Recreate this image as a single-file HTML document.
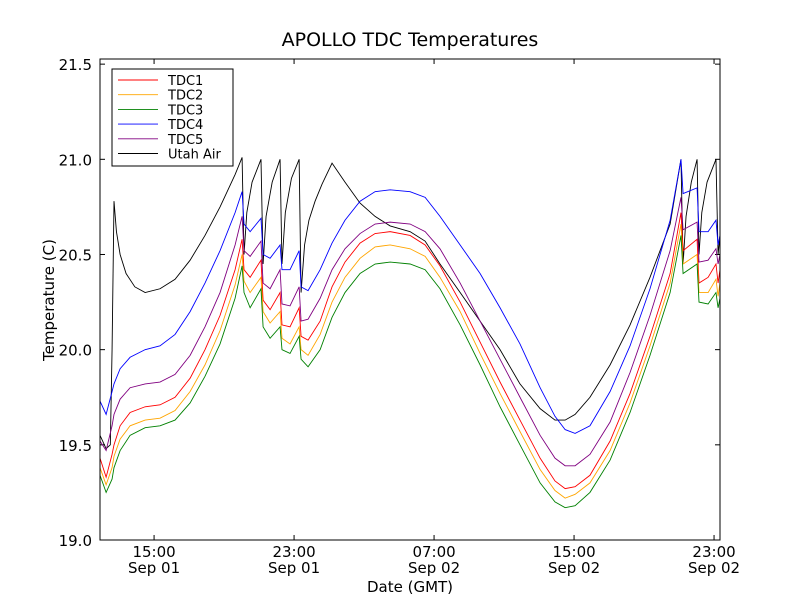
<!DOCTYPE html>
<html><head><meta charset="utf-8"><style>
body{margin:0;background:#fff}
svg text{font-family:"DejaVu Sans","Liberation Sans",sans-serif;fill:#000}
</style></head><body>
<svg id="chart" width="800" height="600" xmlns="http://www.w3.org/2000/svg">
<rect width="800" height="600" fill="#fff"/>
<text x="410" y="46" font-size="19" text-anchor="middle">APOLLO TDC Temperatures</text>
<text transform="translate(54,300) rotate(-90)" font-size="15" text-anchor="middle">Temperature (C)</text>
<text x="410" y="592" font-size="15" text-anchor="middle">Date (GMT)</text>
<g id="ticks"></g>
<g id="series"></g>
<rect x="100" y="59" width="620" height="481" fill="none" stroke="#000" stroke-width="1"/>
<g id="legend"></g>
</svg>
<script>
const times=[-3.09,-2.74,-2.4,-2.29,-1.94,-1.37,-0.51,0.34,1.2,2.06,2.91,3.77,4.63,5.03,5.14,5.49,6.11,6.23,6.63,7.2,7.31,7.77,8.29,8.4,8.8,9.49,10.17,10.91,11.77,12.63,13.49,14.63,15.49,16.34,17.49,18.63,19.77,20.91,22.06,22.91,23.49,24.06,24.91,26.06,27.2,28.34,29.49,30.11,30.23,31.03,31.14,31.66,32.11,32.23,32.34];
const tdc1=[19.43,19.33,19.45,19.5,19.6,19.67,19.7,19.71,19.75,19.85,20.0,20.18,20.42,20.58,20.42,20.38,20.47,20.26,20.21,20.3,20.13,20.12,20.22,20.07,20.05,20.15,20.33,20.46,20.56,20.61,20.62,20.6,20.55,20.44,20.25,20.04,19.83,19.63,19.43,19.31,19.27,19.28,19.34,19.52,19.77,20.07,20.4,20.72,20.52,20.58,20.35,20.38,20.45,20.35,20.42];
const tdc2=[19.38,19.29,19.38,19.44,19.53,19.6,19.63,19.64,19.68,19.78,19.92,20.1,20.34,20.5,20.36,20.3,20.38,20.2,20.14,20.2,20.06,20.03,20.12,20.0,19.97,20.08,20.25,20.38,20.48,20.54,20.55,20.53,20.49,20.38,20.2,19.98,19.77,19.57,19.37,19.26,19.22,19.24,19.3,19.47,19.72,20.02,20.35,20.66,20.45,20.5,20.3,20.3,20.37,20.28,20.35];
const tdc3=[19.34,19.25,19.32,19.38,19.47,19.55,19.59,19.6,19.63,19.72,19.86,20.03,20.27,20.44,20.3,20.22,20.32,20.12,20.06,20.12,20.0,19.98,20.07,19.95,19.91,20.0,20.17,20.3,20.4,20.45,20.46,20.45,20.42,20.32,20.13,19.92,19.7,19.5,19.3,19.2,19.17,19.18,19.25,19.42,19.67,19.97,20.3,20.6,20.4,20.45,20.25,20.24,20.3,20.22,20.27];
const tdc4=[19.73,19.66,19.78,19.82,19.9,19.96,20.0,20.02,20.08,20.2,20.35,20.52,20.72,20.83,20.66,20.62,20.69,20.5,20.48,20.55,20.42,20.42,20.52,20.33,20.31,20.42,20.56,20.68,20.78,20.83,20.84,20.83,20.8,20.7,20.55,20.4,20.22,20.03,19.8,19.65,19.58,19.56,19.6,19.78,20.02,20.32,20.68,21.0,20.82,20.85,20.62,20.62,20.68,20.55,20.6];
const tdc5=[19.52,19.47,19.6,19.66,19.74,19.8,19.82,19.83,19.87,19.97,20.12,20.3,20.55,20.7,20.52,20.49,20.57,20.35,20.32,20.42,20.24,20.23,20.33,20.15,20.16,20.27,20.42,20.53,20.61,20.66,20.67,20.66,20.62,20.53,20.35,20.15,19.95,19.75,19.55,19.43,19.39,19.39,19.45,19.62,19.88,20.18,20.52,20.8,20.63,20.67,20.46,20.47,20.53,20.45,20.5];
const utahTimes=[-3.09,-2.74,-2.5,-2.4,-2.29,-2.15,-1.94,-1.6,-1.1,-0.51,0.34,1.2,2.06,2.91,3.77,4.63,5.03,5.14,5.3,5.6,6.11,6.23,6.4,6.75,7.2,7.31,7.5,7.85,8.29,8.4,8.6,8.85,9.2,9.6,10.17,10.91,11.77,12.63,13.49,14.63,15.49,16.34,17.49,18.63,19.77,20.91,22.06,22.91,23.49,24.06,24.91,26.06,27.2,28.34,29.49,30.11,30.23,30.4,30.7,31.03,31.14,31.3,31.6,32.11,32.23,32.34];
const utahAir=[19.55,19.48,19.5,20.0,20.78,20.62,20.5,20.4,20.33,20.3,20.32,20.37,20.47,20.6,20.75,20.92,21.01,20.5,20.72,20.88,21.0,20.45,20.7,20.88,21.0,20.45,20.72,20.9,21.0,20.3,20.55,20.68,20.78,20.87,20.98,20.88,20.77,20.7,20.65,20.62,20.57,20.45,20.3,20.15,20.0,19.82,19.69,19.63,19.63,19.66,19.75,19.92,20.13,20.38,20.66,21.0,20.45,20.7,20.88,21.0,20.5,20.72,20.88,21.0,20.5,20.6];
const seriesNames=["TDC1","TDC2","TDC3","TDC4","TDC5","Utah Air"];
const seriesColors=["red","orange","green","blue","purple","black"];
const yTicks=[19.0,19.5,20.0,20.5,21.0,21.5];
const xTickHours=[0,8,16,24,32];
const xTickTimes=["15:00","23:00","07:00","15:00","23:00"];
const xTickDates=["Sep 01","Sep 01","Sep 02","Sep 02","Sep 02"];

const NS="http://www.w3.org/2000/svg";
const L=100,R=720,T=59,B=540;
const xMin=-3.09,xMax=32.34,yMin=19.0,yMax=21.527;
function xs(t){return L+(t-xMin)/(xMax-xMin)*(R-L);}
function ys(v){return B-(v-yMin)/(yMax-yMin)*(B-T);}
function mk(tag,attrs,parent){const e=document.createElementNS(NS,tag);for(const k in attrs)e.setAttribute(k,attrs[k]);parent.appendChild(e);return e;}

const tg=document.getElementById('ticks');
yTicks.forEach((v,i)=>{
  const y=ys(v);
  const a=mk('line',{x1:L,x2:L+5,y1:y,y2:y,stroke:'#000'},tg);
  
  
  const b=mk('line',{x1:R-5,x2:R,y1:y,y2:y,stroke:'#000'},tg);
  
  
  const t=mk('text',{x:L-8,y:y+6,'font-size':15,'text-anchor':'end'},tg);
  t.textContent=v.toFixed(1);
  
  
});
xTickHours.forEach((h,i)=>{
  const x=xs(h);
  const a=mk('line',{x1:x,x2:x,y1:B,y2:B-5,stroke:'#000'},tg);
  
  
  const b=mk('line',{x1:x,x2:x,y1:T,y2:T+5,stroke:'#000'},tg);
  
  
  const t1=mk('text',{x:x,y:B+17,'font-size':15,'text-anchor':'middle'},tg);
  t1.textContent=xTickTimes[i];
  
  
  const t2=mk('text',{x:x,y:B+33,'font-size':15,'text-anchor':'middle'},tg);
  t2.textContent=xTickDates[i];
  
  
});

const sg=document.getElementById('series');
const allSeries=[tdc1,tdc2,tdc3,tdc4,tdc5,utahAir];
const order=[5,0,1,2,3,4];
order.forEach(i=>{
  const vals=allSeries[i];
  const tt=(i===5)?utahTimes:times;
  const d=tt.map((t,j)=>(j?'L':'M')+xs(t).toFixed(2)+','+ys(vals[j]).toFixed(2)).join(' ');
  const p=mk('path',{d:d,fill:'none',stroke:seriesColors[i],'stroke-width':0.9},sg);
  
  
});

const lg=document.getElementById('legend');
const box=mk('rect',{x:112,y:69,width:121,height:97,fill:'#fff',stroke:'#000'},lg);


seriesNames.forEach((n,i)=>{
  const y=80+i*14.7;
  const ln=mk('line',{x1:118,x2:158,y1:y,y2:y,stroke:seriesColors[i],'stroke-width':0.9},lg);
  
  
  const t=mk('text',{x:168,y:y+5,'font-size':13},lg);
  t.textContent=n;
  
  
});
</script>
</body></html>
